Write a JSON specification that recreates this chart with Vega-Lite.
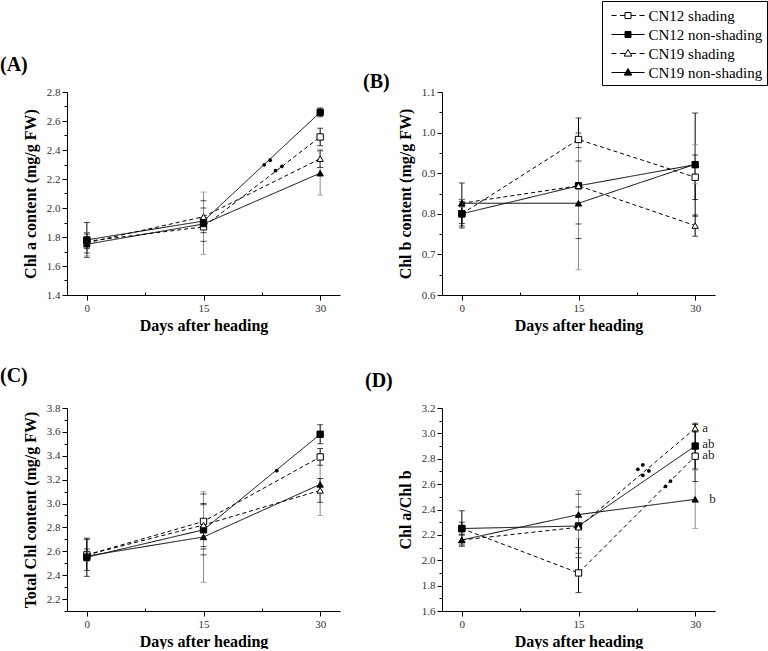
{
  "$schema": "https://vega.github.io/schema/vega-lite/v6.json",
  "padding": 0,
  "autosize": {"type": "pad"},
  "config": {
    "view": {"stroke": null},
    "font": "Liberation Serif",
    "style": {"guide-label": {"font": "Liberation Serif"}, "guide-title": {"font": "Liberation Serif"}},
    "axis": {"labelFont": "Liberation Serif", "labelFontSize": 11, "labelColor": "#333333", "titleFont": "Liberation Serif", "titleFontSize": 16, "titleFontWeight": "bold", "titleColor": "black", "domainColor": "black", "tickColor": "black", "grid": false, "tickSize": 5, "labelPadding": 2, "labelOverlap": false},
    "axisX": {"titlePadding": 4},
    "axisY": {"titlePadding": 8},
    "legend": {"labelFont": "Liberation Serif", "labelFontSize": 15, "labelColor": "black", "padding": 4, "strokeColor": "black", "fillColor": "white", "labelOffset": 10, "symbolOffset": 11.5, "rowPadding": -0.5, "symbolSize": 400, "symbolStrokeWidth": 1, "symbolOpacity": 1, "symbolStrokeColor": "black"},
    "title": {"font": "Liberation Serif", "fontSize": 20, "fontWeight": "bold", "anchor": "start", "frame": "group", "baseline": "alphabetic", "color": "black"}
  },
  "datasets": {
    "d": [
      {"panel": "A", "series": "CN12 shading", "day": 0, "v": 1.77, "lo": 1.72, "hi": 1.82},
      {"panel": "A", "series": "CN12 shading", "day": 15, "v": 1.87, "lo": 1.83, "hi": 1.91},
      {"panel": "A", "series": "CN12 shading", "day": 30, "v": 2.49, "lo": 2.43, "hi": 2.55},
      {"panel": "A", "series": "CN12 non-shading", "day": 0, "v": 1.78, "lo": 1.66, "hi": 1.90},
      {"panel": "A", "series": "CN12 non-shading", "day": 15, "v": 1.91, "lo": 1.77, "hi": 2.05},
      {"panel": "A", "series": "CN12 non-shading", "day": 30, "v": 2.66, "lo": 2.63, "hi": 2.69},
      {"panel": "A", "series": "CN19 shading", "day": 0, "v": 1.76, "lo": 1.69, "hi": 1.83},
      {"panel": "A", "series": "CN19 shading", "day": 15, "v": 1.94, "lo": 1.88, "hi": 2.00},
      {"panel": "A", "series": "CN19 shading", "day": 30, "v": 2.34, "lo": 2.28, "hi": 2.40},
      {"panel": "A", "series": "CN19 non-shading", "day": 0, "v": 1.75, "lo": 1.67, "hi": 1.83},
      {"panel": "A", "series": "CN19 non-shading", "day": 15, "v": 1.89, "lo": 1.68, "hi": 2.11},
      {"panel": "A", "series": "CN19 non-shading", "day": 30, "v": 2.24, "lo": 2.09, "hi": 2.39},
      {"panel": "B", "series": "CN12 shading", "day": 0, "v": 0.80, "lo": 0.765, "hi": 0.835},
      {"panel": "B", "series": "CN12 shading", "day": 15, "v": 0.983, "lo": 0.93, "hi": 1.036},
      {"panel": "B", "series": "CN12 shading", "day": 30, "v": 0.89, "lo": 0.835, "hi": 0.945},
      {"panel": "B", "series": "CN12 non-shading", "day": 0, "v": 0.80, "lo": 0.77, "hi": 0.83},
      {"panel": "B", "series": "CN12 non-shading", "day": 15, "v": 0.869, "lo": 0.739, "hi": 0.999},
      {"panel": "B", "series": "CN12 non-shading", "day": 30, "v": 0.921, "lo": 0.794, "hi": 1.048},
      {"panel": "B", "series": "CN19 shading", "day": 0, "v": 0.826, "lo": 0.776, "hi": 0.876},
      {"panel": "B", "series": "CN19 shading", "day": 15, "v": 0.869, "lo": 0.775, "hi": 0.963},
      {"panel": "B", "series": "CN19 shading", "day": 30, "v": 0.771, "lo": 0.745, "hi": 0.797},
      {"panel": "B", "series": "CN19 non-shading", "day": 0, "v": 0.826, "lo": 0.816, "hi": 0.836},
      {"panel": "B", "series": "CN19 non-shading", "day": 15, "v": 0.826, "lo": 0.662, "hi": 0.99},
      {"panel": "B", "series": "CN19 non-shading", "day": 30, "v": 0.922, "lo": 0.874, "hi": 0.970},
      {"panel": "C", "series": "CN12 shading", "day": 0, "v": 2.57, "lo": 2.44, "hi": 2.70},
      {"panel": "C", "series": "CN12 shading", "day": 15, "v": 2.85, "lo": 2.62, "hi": 3.08},
      {"panel": "C", "series": "CN12 shading", "day": 30, "v": 3.39, "lo": 3.32, "hi": 3.46},
      {"panel": "C", "series": "CN12 non-shading", "day": 0, "v": 2.55, "lo": 2.39, "hi": 2.71},
      {"panel": "C", "series": "CN12 non-shading", "day": 15, "v": 2.78, "lo": 2.57, "hi": 2.99},
      {"panel": "C", "series": "CN12 non-shading", "day": 30, "v": 3.58, "lo": 3.50, "hi": 3.66},
      {"panel": "C", "series": "CN19 shading", "day": 0, "v": 2.57, "lo": 2.52, "hi": 2.62},
      {"panel": "C", "series": "CN19 shading", "day": 15, "v": 2.82, "lo": 2.64, "hi": 3.00},
      {"panel": "C", "series": "CN19 shading", "day": 30, "v": 3.11, "lo": 3.01, "hi": 3.21},
      {"panel": "C", "series": "CN19 non-shading", "day": 0, "v": 2.56, "lo": 2.52, "hi": 2.60},
      {"panel": "C", "series": "CN19 non-shading", "day": 15, "v": 2.72, "lo": 2.34, "hi": 3.10},
      {"panel": "C", "series": "CN19 non-shading", "day": 30, "v": 3.16, "lo": 2.90, "hi": 3.42},
      {"panel": "D", "series": "CN12 shading", "day": 0, "v": 2.25, "lo": 2.11, "hi": 2.39},
      {"panel": "D", "series": "CN12 shading", "day": 15, "v": 1.90, "lo": 1.745, "hi": 2.055},
      {"panel": "D", "series": "CN12 shading", "day": 30, "v": 2.82, "lo": 2.62, "hi": 3.02},
      {"panel": "D", "series": "CN12 non-shading", "day": 0, "v": 2.25, "lo": 2.20, "hi": 2.30},
      {"panel": "D", "series": "CN12 non-shading", "day": 15, "v": 2.27, "lo": 2.02, "hi": 2.52},
      {"panel": "D", "series": "CN12 non-shading", "day": 30, "v": 2.90, "lo": 2.72, "hi": 3.08},
      {"panel": "D", "series": "CN19 shading", "day": 0, "v": 2.16, "lo": 2.12, "hi": 2.20},
      {"panel": "D", "series": "CN19 shading", "day": 15, "v": 2.26, "lo": 2.10, "hi": 2.42},
      {"panel": "D", "series": "CN19 shading", "day": 30, "v": 3.04, "lo": 3.01, "hi": 3.07},
      {"panel": "D", "series": "CN19 non-shading", "day": 0, "v": 2.16, "lo": 2.12, "hi": 2.21},
      {"panel": "D", "series": "CN19 non-shading", "day": 15, "v": 2.36, "lo": 2.17, "hi": 2.55},
      {"panel": "D", "series": "CN19 non-shading", "day": 30, "v": 2.48, "lo": 2.25, "hi": 2.71}
    ],
    "ast": [
      {"panel": "A", "x": 22.8, "y": 2.298},
      {"panel": "A", "x": 23.57, "y": 2.33},
      {"panel": "A", "x": 24.26, "y": 2.257},
      {"panel": "A", "x": 25.07, "y": 2.287},
      {"panel": "C", "x": 24.43, "y": 3.275},
      {"panel": "D", "x": 22.63, "y": 2.717},
      {"panel": "D", "x": 23.27, "y": 2.751},
      {"panel": "D", "x": 23.27, "y": 2.669},
      {"panel": "D", "x": 24.05, "y": 2.704},
      {"panel": "D", "x": 26.19, "y": 2.582},
      {"panel": "D", "x": 26.83, "y": 2.624}
    ],
    "let": [
      {"panel": "D", "x": 30.9, "y": 3.045, "t": "a"},
      {"panel": "D", "x": 30.9, "y": 2.915, "t": "ab"},
      {"panel": "D", "x": 30.9, "y": 2.83, "t": "ab"},
      {"panel": "D", "x": 31.8, "y": 2.48, "t": "b"}
    ]
  },
  "columns": 2,
  "spacing": {"row": 113, "column": 102},
  "bounds": "flush",
  "resolve": {"scale": {"shape": "independent"}, "legend": {"shape": "independent", "strokeDash": "independent"}},
  "concat": [
    {
      "width": 273, "height": 203,
      "title": {"text": "(A)", "dx": -67, "offset": 11},
      "data": {"name": "d"},
      "transform": [{"filter": "datum.panel === 'A'"}],
      "resolve": {"axis": {"x": "independent", "y": "independent"}},
      "layer": [
        {"mark": {"type": "rule", "strokeWidth": 1},
         "encoding": {
           "x": {"field": "day", "type": "quantitative", "scale": {"domain": [-2.55, 32.55], "nice": false, "zero": false},
                 "axis": {"title": "Days after heading", "values": [0, 15, 30], "format": "d", "labelOverlap": false}},
           "y": {"field": "lo", "type": "quantitative", "scale": {"domain": [1.4, 2.8], "nice": false, "zero": false},
                 "axis": {"title": "Chl a content (mg/g FW)", "values": [1.4, 1.6, 1.8, 2.0, 2.2, 2.4, 2.6, 2.8], "format": ".1f", "labelOverlap": false}},
           "y2": {"field": "hi"},
           "color": {"field": "series", "type": "nominal", "scale": {"domain": ["CN12 shading", "CN12 non-shading", "CN19 shading", "CN19 non-shading"], "range": ["black", "black", "black", "#8c8c8c"]}, "legend": null}
         }},
        {"mark": {"type": "tick", "orient": "horizontal", "size": 6, "thickness": 1},
         "encoding": {
           "x": {"field": "day", "type": "quantitative", "scale": {"domain": [-2.55, 32.55], "nice": false, "zero": false}, "axis": null},
           "y": {"field": "lo", "type": "quantitative", "scale": {"domain": [1.4, 2.8], "nice": false, "zero": false}, "axis": null},
           "color": {"field": "series", "type": "nominal", "legend": null}
         }},
        {"mark": {"type": "tick", "orient": "horizontal", "size": 6, "thickness": 1},
         "encoding": {
           "x": {"field": "day", "type": "quantitative", "scale": {"domain": [-2.55, 32.55], "nice": false, "zero": false},
                 "axis": {"orient": "bottom", "values": [7.5, 22.5], "labels": false, "domain": false, "title": null, "tickSize": -3}},
           "y": {"field": "hi", "type": "quantitative", "scale": {"domain": [1.4, 2.8], "nice": false, "zero": false},
                 "axis": {"orient": "left", "values": [1.5, 1.7, 1.9, 2.1, 2.3, 2.5, 2.7], "labels": false, "domain": false, "title": null, "tickSize": 3}},
           "color": {"field": "series", "type": "nominal", "legend": null}
         }},
        {"mark": {"type": "line", "color": "black", "strokeWidth": 1},
         "encoding": {
           "x": {"field": "day", "type": "quantitative", "scale": {"domain": [-2.55, 32.55], "nice": false, "zero": false}, "axis": null},
           "y": {"field": "v", "type": "quantitative", "scale": {"domain": [1.4, 2.8], "nice": false, "zero": false}, "axis": null},
           "detail": {"field": "series"},
           "strokeDash": {"field": "series", "type": "nominal", "scale": {"domain": ["CN12 shading", "CN12 non-shading", "CN19 shading", "CN19 non-shading"], "range": [[4, 3], [1, 0], [4, 3], [1, 0]]}, "legend": null}
         }},
        {"mark": {"type": "point", "filled": true, "stroke": "black", "strokeWidth": 1, "size": 40, "opacity": 1},
         "encoding": {
           "x": {"field": "day", "type": "quantitative", "scale": {"domain": [-2.55, 32.55], "nice": false, "zero": false}, "axis": null},
           "y": {"field": "v", "type": "quantitative", "scale": {"domain": [1.4, 2.8], "nice": false, "zero": false}, "axis": null},
           "shape": {"field": "series", "type": "nominal", "scale": {"domain": ["CN12 shading", "CN12 non-shading", "CN19 shading", "CN19 non-shading"], "range": ["square", "square", "triangle-up", "triangle-up"]}, "legend": null},
           "fill": {"field": "series", "type": "nominal", "scale": {"domain": ["CN12 shading", "CN12 non-shading", "CN19 shading", "CN19 non-shading"], "range": ["white", "black", "white", "black"]}, "legend": null}
         }},
        {"data": {"name": "ast"}, "transform": [{"filter": "datum.panel === 'A'"}],
         "mark": {"type": "point", "filled": true, "color": "black", "size": 14, "shape": "circle", "opacity": 1},
         "encoding": {
           "x": {"field": "x", "type": "quantitative", "scale": {"domain": [-2.55, 32.55], "nice": false, "zero": false}, "axis": null},
           "y": {"field": "y", "type": "quantitative", "scale": {"domain": [1.4, 2.8], "nice": false, "zero": false}, "axis": null}
         }}
      ]
    },
    {
      "width": 273, "height": 203,
      "title": {"text": "(B)", "dx": -79, "offset": -91},
      "data": {"name": "d"},
      "transform": [{"filter": "datum.panel === 'B'"}],
      "resolve": {"axis": {"x": "independent", "y": "independent"}, "scale": {"shape": "independent"}, "legend": {"shape": "independent"}},
      "layer": [
        {"mark": {"type": "rule", "strokeWidth": 1},
         "encoding": {
           "x": {"field": "day", "type": "quantitative", "scale": {"domain": [-2.55, 32.55], "nice": false, "zero": false},
                 "axis": {"title": "Days after heading", "values": [0, 15, 30], "format": "d", "labelOverlap": false}},
           "y": {"field": "lo", "type": "quantitative", "scale": {"domain": [0.6, 1.1], "nice": false, "zero": false},
                 "axis": {"title": "Chl b content (mg/g FW)", "values": [0.6, 0.7, 0.8, 0.9, 1.0, 1.1], "format": ".1f", "labelOverlap": false}},
           "y2": {"field": "hi"},
           "color": {"field": "series", "type": "nominal", "scale": {"domain": ["CN12 shading", "CN12 non-shading", "CN19 shading", "CN19 non-shading"], "range": ["black", "black", "black", "#8c8c8c"]}, "legend": null}
         }},
        {"mark": {"type": "tick", "orient": "horizontal", "size": 6, "thickness": 1},
         "encoding": {
           "x": {"field": "day", "type": "quantitative", "scale": {"domain": [-2.55, 32.55], "nice": false, "zero": false}, "axis": null},
           "y": {"field": "lo", "type": "quantitative", "scale": {"domain": [0.6, 1.1], "nice": false, "zero": false}, "axis": null},
           "color": {"field": "series", "type": "nominal", "legend": null}
         }},
        {"mark": {"type": "tick", "orient": "horizontal", "size": 6, "thickness": 1},
         "encoding": {
           "x": {"field": "day", "type": "quantitative", "scale": {"domain": [-2.55, 32.55], "nice": false, "zero": false},
                 "axis": {"orient": "bottom", "values": [7.5, 22.5], "labels": false, "domain": false, "title": null, "tickSize": -3}},
           "y": {"field": "hi", "type": "quantitative", "scale": {"domain": [0.6, 1.1], "nice": false, "zero": false},
                 "axis": {"orient": "left", "values": [0.65, 0.75, 0.85, 0.95, 1.05], "labels": false, "domain": false, "title": null, "tickSize": 3}},
           "color": {"field": "series", "type": "nominal", "legend": null}
         }},
        {"mark": {"type": "line", "color": "black", "strokeWidth": 1},
         "encoding": {
           "x": {"field": "day", "type": "quantitative", "scale": {"domain": [-2.55, 32.55], "nice": false, "zero": false}, "axis": null},
           "y": {"field": "v", "type": "quantitative", "scale": {"domain": [0.6, 1.1], "nice": false, "zero": false}, "axis": null},
           "detail": {"field": "series"},
           "strokeDash": {"field": "series", "type": "nominal", "scale": {"domain": ["CN12 shading", "CN12 non-shading", "CN19 shading", "CN19 non-shading"], "range": [[4, 3], [1, 0], [4, 3], [1, 0]]}, "legend": null}
         }},
        {"mark": {"type": "point", "filled": true, "stroke": "black", "strokeWidth": 1, "size": 40, "opacity": 1},
         "encoding": {
           "x": {"field": "day", "type": "quantitative", "scale": {"domain": [-2.55, 32.55], "nice": false, "zero": false}, "axis": null},
           "y": {"field": "v", "type": "quantitative", "scale": {"domain": [0.6, 1.1], "nice": false, "zero": false}, "axis": null},
           "shape": {"field": "series", "type": "nominal", "scale": {"domain": ["CN12 shading", "CN12 non-shading", "CN19 shading", "CN19 non-shading"], "range": ["square", "square", "triangle-up", "triangle-up"]}, "legend": null},
           "fill": {"field": "series", "type": "nominal", "scale": {"domain": ["CN12 shading", "CN12 non-shading", "CN19 shading", "CN19 non-shading"], "range": ["white", "black", "white", "black"]}, "legend": null}
         }},
        {"transform": [{"filter": "datum.panel === 'legend-only'"}],
         "mark": {"type": "point", "filled": false, "color": "black", "stroke": "black", "strokeWidth": 1, "size": 400, "opacity": 1},
         "encoding": {
           "x": {"field": "day", "type": "quantitative", "scale": {"domain": [-2.55, 32.55], "nice": false, "zero": false}, "axis": null},
           "y": {"field": "v", "type": "quantitative", "scale": {"domain": [0.6, 1.1], "nice": false, "zero": false}, "axis": null},
           "shape": {"field": "series", "type": "nominal",
             "scale": {"domain": ["CN12 shading", "CN12 non-shading", "CN19 shading", "CN19 non-shading"],
                       "range": ["M-1.65,0H-1.15M-0.8,0H-0.3M0.3,0H0.8M1.15,0H1.65M-0.3,-0.3H0.3V0.3H-0.3Z",
                                 "M-1.65,0H1.65M-0.3,-0.3H0.3V0.3H-0.3ZM-0.3,-0.2H0.3M-0.3,-0.1H0.3M-0.3,0.1H0.3M-0.3,0.2H0.3",
                                 "M-1.65,0H-1.15M-0.8,0H-0.25M0.25,0H0.8M1.15,0H1.65M0,-0.4L0.38,0.26H-0.38Z",
                                 "M-1.65,0H1.65M0,-0.4L0.38,0.26H-0.38ZM-0.06,-0.3H0.06M-0.12,-0.2H0.12M-0.17,-0.1H0.17M-0.29,0.1H0.29M-0.35,0.2H0.35"]},
             "legend": {"title": null, "orient": "none", "legendX": 160, "legendY": -91, "padding": 4, "strokeColor": "black", "fillColor": "white", "labelFont": "Liberation Serif", "labelFontSize": 15, "labelColor": "black", "labelOffset": 10, "symbolOffset": 11.5, "rowPadding": -0.5, "symbolSize": 400, "symbolStrokeWidth": 1, "symbolStrokeColor": "black", "symbolOpacity": 1}}
         }}
      ]
    },
    {
      "width": 273, "height": 203,
      "title": {"text": "(C)", "dx": -67, "offset": 16},
      "data": {"name": "d"},
      "transform": [{"filter": "datum.panel === 'C'"}],
      "resolve": {"axis": {"x": "independent", "y": "independent"}},
      "layer": [
        {"mark": {"type": "rule", "strokeWidth": 1},
         "encoding": {
           "x": {"field": "day", "type": "quantitative", "scale": {"domain": [-2.55, 32.55], "nice": false, "zero": false},
                 "axis": {"title": "Days after heading", "values": [0, 15, 30], "format": "d", "labelOverlap": false}},
           "y": {"field": "lo", "type": "quantitative", "scale": {"domain": [2.1, 3.8], "nice": false, "zero": false},
                 "axis": {"title": "Total Chl content (mg/g FW)", "values": [2.2, 2.4, 2.6, 2.8, 3.0, 3.2, 3.4, 3.6, 3.8], "format": ".1f", "labelOverlap": false}},
           "y2": {"field": "hi"},
           "color": {"field": "series", "type": "nominal", "scale": {"domain": ["CN12 shading", "CN12 non-shading", "CN19 shading", "CN19 non-shading"], "range": ["black", "black", "black", "#8c8c8c"]}, "legend": null}
         }},
        {"mark": {"type": "tick", "orient": "horizontal", "size": 6, "thickness": 1},
         "encoding": {
           "x": {"field": "day", "type": "quantitative", "scale": {"domain": [-2.55, 32.55], "nice": false, "zero": false}, "axis": null},
           "y": {"field": "lo", "type": "quantitative", "scale": {"domain": [2.1, 3.8], "nice": false, "zero": false}, "axis": null},
           "color": {"field": "series", "type": "nominal", "legend": null}
         }},
        {"mark": {"type": "tick", "orient": "horizontal", "size": 6, "thickness": 1},
         "encoding": {
           "x": {"field": "day", "type": "quantitative", "scale": {"domain": [-2.55, 32.55], "nice": false, "zero": false},
                 "axis": {"orient": "bottom", "values": [7.5, 22.5], "labels": false, "domain": false, "title": null, "tickSize": -3}},
           "y": {"field": "hi", "type": "quantitative", "scale": {"domain": [2.1, 3.8], "nice": false, "zero": false},
                 "axis": {"orient": "left", "values": [2.1, 2.3, 2.5, 2.7, 2.9, 3.1, 3.3, 3.5, 3.7], "labels": false, "domain": false, "title": null, "tickSize": 3}},
           "color": {"field": "series", "type": "nominal", "legend": null}
         }},
        {"mark": {"type": "line", "color": "black", "strokeWidth": 1},
         "encoding": {
           "x": {"field": "day", "type": "quantitative", "scale": {"domain": [-2.55, 32.55], "nice": false, "zero": false}, "axis": null},
           "y": {"field": "v", "type": "quantitative", "scale": {"domain": [2.1, 3.8], "nice": false, "zero": false}, "axis": null},
           "detail": {"field": "series"},
           "strokeDash": {"field": "series", "type": "nominal", "scale": {"domain": ["CN12 shading", "CN12 non-shading", "CN19 shading", "CN19 non-shading"], "range": [[4, 3], [1, 0], [4, 3], [1, 0]]}, "legend": null}
         }},
        {"mark": {"type": "point", "filled": true, "stroke": "black", "strokeWidth": 1, "size": 40, "opacity": 1},
         "encoding": {
           "x": {"field": "day", "type": "quantitative", "scale": {"domain": [-2.55, 32.55], "nice": false, "zero": false}, "axis": null},
           "y": {"field": "v", "type": "quantitative", "scale": {"domain": [2.1, 3.8], "nice": false, "zero": false}, "axis": null},
           "shape": {"field": "series", "type": "nominal", "scale": {"domain": ["CN12 shading", "CN12 non-shading", "CN19 shading", "CN19 non-shading"], "range": ["square", "square", "triangle-up", "triangle-up"]}, "legend": null},
           "fill": {"field": "series", "type": "nominal", "scale": {"domain": ["CN12 shading", "CN12 non-shading", "CN19 shading", "CN19 non-shading"], "range": ["white", "black", "white", "black"]}, "legend": null}
         }},
        {"data": {"name": "ast"}, "transform": [{"filter": "datum.panel === 'C'"}],
         "mark": {"type": "point", "filled": true, "color": "black", "size": 14, "shape": "circle", "opacity": 1},
         "encoding": {
           "x": {"field": "x", "type": "quantitative", "scale": {"domain": [-2.55, 32.55], "nice": false, "zero": false}, "axis": null},
           "y": {"field": "y", "type": "quantitative", "scale": {"domain": [2.1, 3.8], "nice": false, "zero": false}, "axis": null}
         }}
      ]
    },
    {
      "width": 273, "height": 203,
      "title": {"text": "(D)", "dx": -77, "offset": 11},
      "data": {"name": "d"},
      "transform": [{"filter": "datum.panel === 'D'"}],
      "resolve": {"axis": {"x": "independent", "y": "independent"}},
      "layer": [
        {"mark": {"type": "rule", "strokeWidth": 1},
         "encoding": {
           "x": {"field": "day", "type": "quantitative", "scale": {"domain": [-2.55, 32.55], "nice": false, "zero": false},
                 "axis": {"title": "Days after heading", "values": [0, 15, 30], "format": "d", "labelOverlap": false}},
           "y": {"field": "lo", "type": "quantitative", "scale": {"domain": [1.6, 3.2], "nice": false, "zero": false},
                 "axis": {"title": "Chl a/Chl b", "values": [1.6, 1.8, 2.0, 2.2, 2.4, 2.6, 2.8, 3.0, 3.2], "format": ".1f", "labelOverlap": false}},
           "y2": {"field": "hi"},
           "color": {"field": "series", "type": "nominal", "scale": {"domain": ["CN12 shading", "CN12 non-shading", "CN19 shading", "CN19 non-shading"], "range": ["black", "black", "black", "#8c8c8c"]}, "legend": null}
         }},
        {"mark": {"type": "tick", "orient": "horizontal", "size": 6, "thickness": 1},
         "encoding": {
           "x": {"field": "day", "type": "quantitative", "scale": {"domain": [-2.55, 32.55], "nice": false, "zero": false}, "axis": null},
           "y": {"field": "lo", "type": "quantitative", "scale": {"domain": [1.6, 3.2], "nice": false, "zero": false}, "axis": null},
           "color": {"field": "series", "type": "nominal", "legend": null}
         }},
        {"mark": {"type": "tick", "orient": "horizontal", "size": 6, "thickness": 1},
         "encoding": {
           "x": {"field": "day", "type": "quantitative", "scale": {"domain": [-2.55, 32.55], "nice": false, "zero": false},
                 "axis": {"orient": "bottom", "values": [7.5, 22.5], "labels": false, "domain": false, "title": null, "tickSize": -3}},
           "y": {"field": "hi", "type": "quantitative", "scale": {"domain": [1.6, 3.2], "nice": false, "zero": false},
                 "axis": {"orient": "left", "values": [1.7, 1.9, 2.1, 2.3, 2.5, 2.7, 2.9, 3.1], "labels": false, "domain": false, "title": null, "tickSize": 3}},
           "color": {"field": "series", "type": "nominal", "legend": null}
         }},
        {"mark": {"type": "line", "color": "black", "strokeWidth": 1},
         "encoding": {
           "x": {"field": "day", "type": "quantitative", "scale": {"domain": [-2.55, 32.55], "nice": false, "zero": false}, "axis": null},
           "y": {"field": "v", "type": "quantitative", "scale": {"domain": [1.6, 3.2], "nice": false, "zero": false}, "axis": null},
           "detail": {"field": "series"},
           "strokeDash": {"field": "series", "type": "nominal", "scale": {"domain": ["CN12 shading", "CN12 non-shading", "CN19 shading", "CN19 non-shading"], "range": [[4, 3], [1, 0], [4, 3], [1, 0]]}, "legend": null}
         }},
        {"mark": {"type": "point", "filled": true, "stroke": "black", "strokeWidth": 1, "size": 40, "opacity": 1},
         "encoding": {
           "x": {"field": "day", "type": "quantitative", "scale": {"domain": [-2.55, 32.55], "nice": false, "zero": false}, "axis": null},
           "y": {"field": "v", "type": "quantitative", "scale": {"domain": [1.6, 3.2], "nice": false, "zero": false}, "axis": null},
           "shape": {"field": "series", "type": "nominal", "scale": {"domain": ["CN12 shading", "CN12 non-shading", "CN19 shading", "CN19 non-shading"], "range": ["square", "square", "triangle-up", "triangle-up"]}, "legend": null},
           "fill": {"field": "series", "type": "nominal", "scale": {"domain": ["CN12 shading", "CN12 non-shading", "CN19 shading", "CN19 non-shading"], "range": ["white", "black", "white", "black"]}, "legend": null}
         }},
        {"data": {"name": "ast"}, "transform": [{"filter": "datum.panel === 'D'"}],
         "mark": {"type": "point", "filled": true, "color": "black", "size": 14, "shape": "circle", "opacity": 1},
         "encoding": {
           "x": {"field": "x", "type": "quantitative", "scale": {"domain": [-2.55, 32.55], "nice": false, "zero": false}, "axis": null},
           "y": {"field": "y", "type": "quantitative", "scale": {"domain": [1.6, 3.2], "nice": false, "zero": false}, "axis": null}
         }},
        {"data": {"name": "let"}, "transform": [{"filter": "datum.panel === 'D'"}],
         "mark": {"type": "text", "align": "left", "baseline": "middle", "font": "Liberation Serif", "fontSize": 13, "color": "#222222"},
         "encoding": {
           "x": {"field": "x", "type": "quantitative", "scale": {"domain": [-2.55, 32.55], "nice": false, "zero": false}, "axis": null},
           "y": {"field": "y", "type": "quantitative", "scale": {"domain": [1.6, 3.2], "nice": false, "zero": false}, "axis": null},
           "text": {"field": "t"}
         }}
      ]
    }
  ]
}
